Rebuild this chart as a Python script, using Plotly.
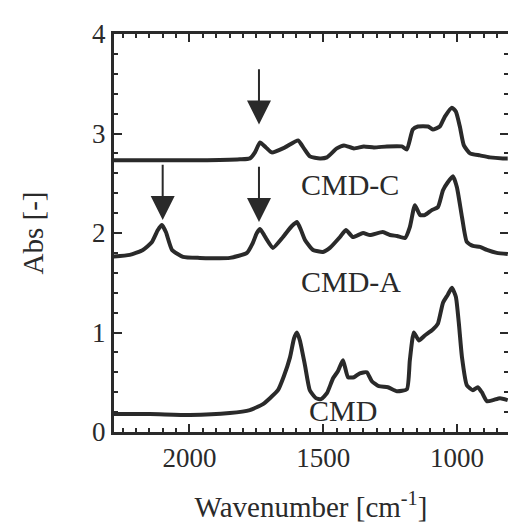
import plotly.graph_objects as go

# CMD-C (top)
cmdc_x = [2300, 1961, 1811, 1774, 1755, 1736, 1714, 1692, 1643, 1594, 1572, 1550, 1512, 1486,
          1449, 1422, 1385, 1348, 1310, 1262, 1206, 1187, 1165, 1146, 1108, 1090, 1064, 1045,
          1019, 1004, 989, 974, 951, 914, 877, 828, 810]
cmdc_y = [2.73, 2.73, 2.74, 2.75, 2.81, 2.91, 2.86, 2.81, 2.86, 2.93, 2.85, 2.77, 2.75, 2.76,
          2.85, 2.88, 2.85, 2.87, 2.86, 2.87, 2.87, 2.84, 3.04, 3.07, 3.07, 3.04, 3.07, 3.17,
          3.26, 3.22, 3.07, 2.88, 2.80, 2.78, 2.76, 2.75, 2.75]

# CMD-A (middle)
cmda_x = [2300, 2223, 2174, 2140, 2118, 2103, 2088, 2065, 2024, 1961, 1849, 1785, 1763, 1748,
          1736, 1721, 1710, 1688, 1650, 1617, 1598, 1583, 1568, 1538, 1501, 1475, 1437, 1415,
          1389, 1351, 1325, 1277, 1250, 1224, 1194, 1176, 1157, 1138, 1120, 1094, 1071, 1052,
          1034, 1015, 1000, 981, 963, 940, 914, 888, 851, 810]
cmda_y = [1.76, 1.78, 1.83, 1.91, 2.03, 2.08, 2.01, 1.83, 1.76, 1.75, 1.75, 1.80, 1.90, 2.00,
          2.04, 1.98, 1.93, 1.85, 1.96, 2.07, 2.11, 2.03, 1.93, 1.83, 1.81, 1.85, 1.96, 2.03,
          1.96, 2.00, 1.98, 2.01, 1.98, 1.97, 1.95, 2.06, 2.28, 2.18, 2.18, 2.23, 2.26, 2.43,
          2.51, 2.57, 2.46, 2.16, 1.91, 1.87, 1.86, 1.83, 1.80, 1.79]

# CMD (bottom)
cmd_x = [2300, 2148, 1998, 1849, 1774, 1725, 1695, 1669, 1647, 1624, 1609, 1598, 1587, 1568,
         1550, 1527, 1508, 1486, 1463, 1445, 1426, 1407, 1385, 1363, 1337, 1318, 1292, 1258,
         1224, 1187, 1176, 1161, 1142, 1120, 1090, 1071, 1052, 1034, 1019, 1004, 993, 981,
         963, 940, 922, 907, 888, 865, 839, 810]
cmd_y = [0.18, 0.18, 0.17, 0.19, 0.22, 0.28, 0.35, 0.42, 0.56, 0.75, 0.94, 1.00, 0.92, 0.67,
         0.42, 0.34, 0.33, 0.39, 0.54, 0.61, 0.72, 0.55, 0.55, 0.59, 0.60, 0.51, 0.46, 0.45,
         0.41, 0.43, 0.72, 1.00, 0.92, 0.97, 1.03, 1.09, 1.30, 1.38, 1.45, 1.36, 1.10, 0.75,
         0.47, 0.42, 0.45, 0.40, 0.31, 0.32, 0.34, 0.32]

labels = ["CMD-C", "CMD-A", "CMD"]
label_x = [1400, 1395, 1425]
label_y = [2.49, 1.51, 0.22]

arrow_x = [2100, 1740, 1740]
arrow_tip = [2.13, 2.11, 3.09]
arrow_tail = [2.70, 2.68, 3.66]

INK = "#2a2a2a"
FONT = "Liberation Serif, Times New Roman, serif"

fig = go.Figure()
for xs, ys in [(cmd_x, cmd_y), (cmda_x, cmda_y), (cmdc_x, cmdc_y)]:
    fig.add_trace(go.Scatter(x=xs, y=ys, mode="lines",
                             line=dict(color=INK, width=4, shape="spline", smoothing=0.5),
                             showlegend=False, hoverinfo="skip"))

for t, lx, ly in zip(labels, label_x, label_y):
    fig.add_annotation(x=lx, y=ly, text=t, showarrow=False, xref="x", yref="y",
                       font=dict(family=FONT, size=30, color=INK))

for ax_, tip, tail in zip(arrow_x, arrow_tip, arrow_tail):
    fig.add_annotation(x=ax_, y=tip, ax=ax_, ay=tail, xref="x", yref="y",
                       axref="x", ayref="y", text="", showarrow=True,
                       arrowhead=2, arrowsize=2.4, arrowwidth=2, arrowcolor=INK)

axis_common = dict(showgrid=False, zeroline=False, showline=True, linecolor=INK,
                   linewidth=3, mirror="ticks", ticks="inside", tickcolor=INK,
                   tickwidth=2, ticklen=8,
                   tickfont=dict(family=FONT, size=27, color=INK))

fig.update_xaxes(range=[2282, 809], tickmode="linear", tick0=1000, dtick=500,
                 minor=dict(ticks="inside", dtick=50, ticklen=4, tickwidth=1.5, tickcolor=INK),
                 title=dict(text="Wavenumber [cm<sup>-1</sup>]", standoff=25,
                            font=dict(family=FONT, size=29, color=INK)),
                 **axis_common)
fig.update_yaxes(range=[0, 4], tickmode="linear", tick0=0, dtick=1,
                 minor=dict(ticks="inside", dtick=0.2, ticklen=4, tickwidth=1.5, tickcolor=INK),
                 title=dict(text="Abs [-]", standoff=40,
                            font=dict(family=FONT, size=29, color=INK)),
                 **axis_common)

fig.update_layout(width=508, height=527, margin=dict(l=114, r=0, t=34, b=95, autoexpand=False),
                  plot_bgcolor="white", paper_bgcolor="white")

# remove the default page margin so the 508x527 figure fills the window exactly
fig.write_html("out.html", config={"displayModeBar": False},
               post_script="document.body.style.margin='0';document.body.style.overflow='hidden';")
